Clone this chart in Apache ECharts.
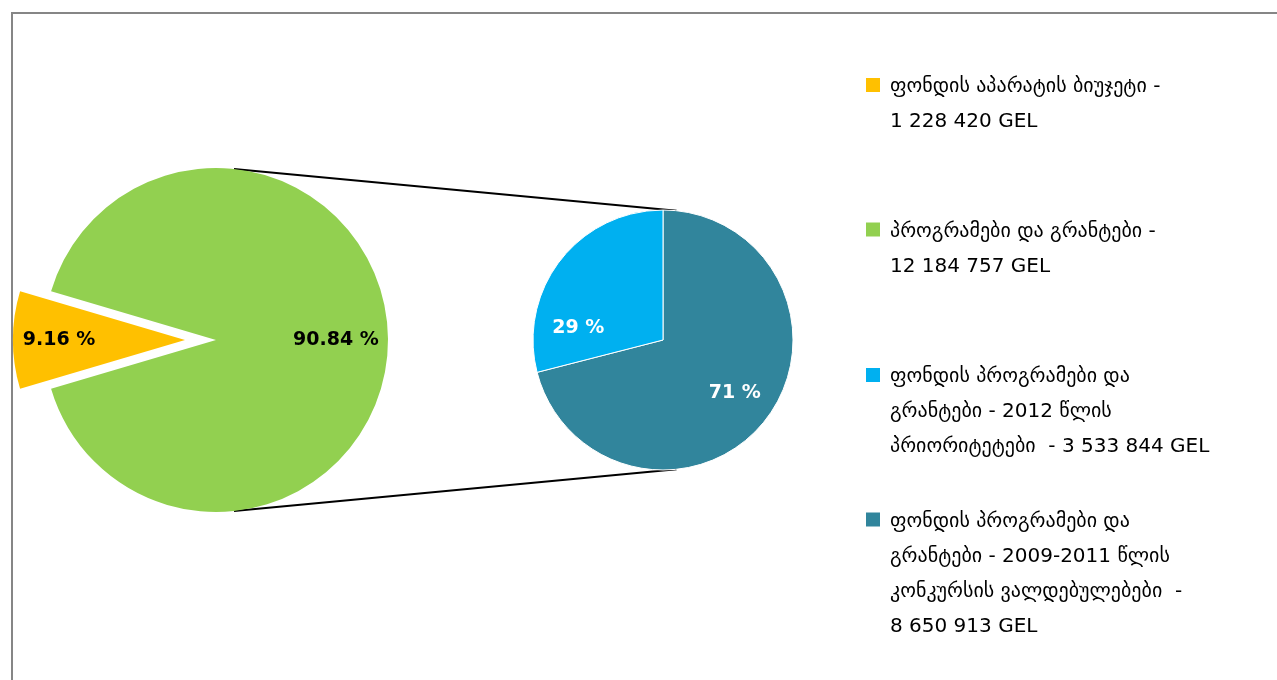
<!DOCTYPE html>
<html lang="ka">
<head>
    <meta charset="UTF-8">
    <title>Pie of pie</title>
    <script src="https://cdn.jsdelivr.net/npm/echarts@6/dist/echarts.min.js"></script>
    <style>
        html, body { margin: 0; padding: 0; background: #fff; }
        #chart { width: 1277px; height: 680px; }
    </style>
</head>
<body>
<div id="chart"></div>
<script>
    // data
    var mainNames = ['ფონდის აპარატის ბიუჯეტი', 'პროგრამები და გრანტები'];
    var mainValues = [1228420, 12184757];
    // second pie: drawn clockwise from 12 o'clock, teal first
    var subNames = ['2009-2011 წლის კონკურსის ვალდებულებები', '2012 წლის პრიორიტეტები'];
    var subValues = [8650913, 3533844];
    var legendLabels = [
        'ფონდის აპარატის ბიუჯეტი -\n1 228 420 GEL',
        'პროგრამები და გრანტები -\n12 184 757 GEL',
        'ფონდის პროგრამები და\nგრანტები - 2012 წლის\nპრიორიტეტები  - 3 533 844 GEL',
        'ფონდის პროგრამები და\nგრანტები - 2009-2011 წლის\nკონკურსის ვალდებულებები  -\n8 650 913 GEL'
    ];

    var mainColors = ['#FFC000', '#92D050'];
    var subColors = ['#31859C', '#00B0F0'];
    var legendColors = ['#FFC000', '#92D050', '#00B0F0', '#31859C'];

    var FONT = '"DejaVu Sans", "Noto Sans", sans-serif';
    var c1 = [216, 340], r1 = 172;
    var c2 = [663, 340], r2 = 130;
    var linkAngle = 84 * Math.PI / 180;
    var slice = mainValues[0] / (mainValues[0] + mainValues[1]) * 360;

    var myChart = echarts.init(document.getElementById('chart'));

    var mainData = mainNames.map(function (n, i) {
        var d = { name: n, value: mainValues[i], itemStyle: { color: mainColors[i] },
                  select: { itemStyle: { color: mainColors[i] } } };
        if (i === 0) d.selected = true;
        return d;
    });
    var subData = subNames.map(function (n, i) {
        return { name: n, value: subValues[i], itemStyle: { color: subColors[i] } };
    });

    var mainShift = [[-37, 0], [31, 0]];
    var subShift = [[18, 11], [-31, 30]];

    var graphics = [
        { type: 'rect', shape: { x: 12, y: 13, width: 1300, height: 700 },
          style: { fill: 'none', stroke: '#868686', lineWidth: 2 }, silent: true },
        { type: 'line', z: 1, shape: {
            x1: c1[0] + r1 * Math.cos(linkAngle), y1: c1[1] - r1 * Math.sin(linkAngle),
            x2: c2[0] + r2 * Math.cos(linkAngle), y2: c2[1] - r2 * Math.sin(linkAngle) },
          style: { stroke: '#000', lineWidth: 2 } },
        { type: 'line', z: 1, shape: {
            x1: c1[0] + r1 * Math.cos(linkAngle), y1: c1[1] + r1 * Math.sin(linkAngle),
            x2: c2[0] + r2 * Math.cos(linkAngle), y2: c2[1] + r2 * Math.sin(linkAngle) },
          style: { stroke: '#000', lineWidth: 2 } }
    ];
    var legendTop = [85, 229.5, 375, 519.5];
    legendLabels.forEach(function (txt, i) {
        graphics.push({ type: 'rect', shape: { x: 866, y: legendTop[i] - 7, width: 14, height: 14 },
                        style: { fill: legendColors[i] } });
        graphics.push({ type: 'text', x: 890, y: legendTop[i] - 15.5,
                        style: { text: txt, font: '20px ' + FONT, fill: '#000',
                                 lineHeight: 35, verticalAlign: 'top' } });
    });

    myChart.setOption({
        animation: false,
        graphic: graphics,
        series: [
            {
                type: 'pie',
                center: c1,
                radius: r1,
                startAngle: 180 + slice / 2,
                selectedMode: 'single',
                selectedOffset: 31,
                silent: true,
                label: {
                    position: 'inside',
                    formatter: '{d} %',
                    fontFamily: FONT, fontWeight: 'bold', fontSize: 19, color: '#000'
                },
                labelLine: { show: false },
                labelLayout: function (p) {
                    return { dx: mainShift[p.dataIndex][0], dy: mainShift[p.dataIndex][1] };
                },
                itemStyle: { borderWidth: 0 },
                data: mainData
            },
            {
                type: 'pie',
                center: c2,
                radius: r2,
                startAngle: 90,
                percentPrecision: 0,
                silent: true,
                label: {
                    position: 'inside',
                    formatter: '{d} %',
                    fontFamily: FONT, fontWeight: 'bold', fontSize: 19, color: '#fff'
                },
                labelLine: { show: false },
                labelLayout: function (p) {
                    return { dx: subShift[p.dataIndex][0], dy: subShift[p.dataIndex][1] };
                },
                itemStyle: { borderColor: '#fff', borderWidth: 1 },
                data: subData
            }
        ]
    });
</script>
</body>
</html>
